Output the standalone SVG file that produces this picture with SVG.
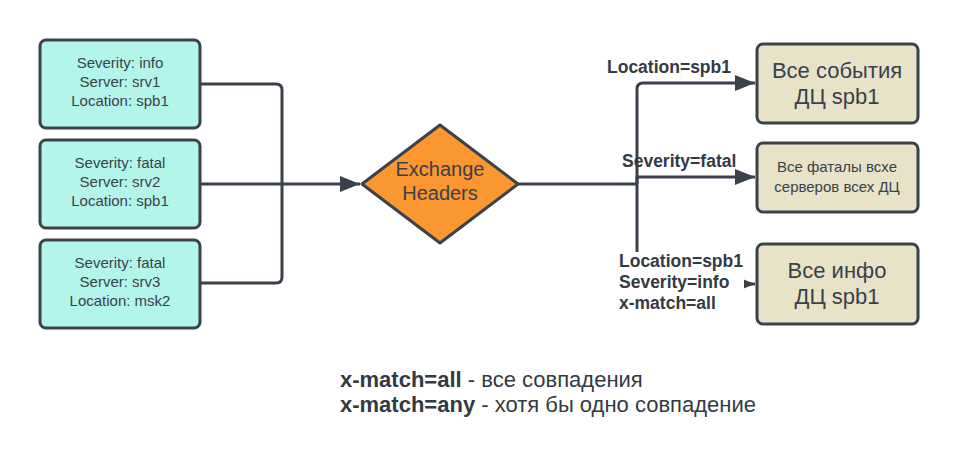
<svg xmlns="http://www.w3.org/2000/svg" width="958" height="464" viewBox="0 0 958 464">
<defs>
<marker id="arr" viewBox="0 0 20 16" refX="20" refY="8" markerWidth="20" markerHeight="16" markerUnits="userSpaceOnUse" orient="auto">
<path d="M0,0 L20,8 L0,16 Z" fill="#3a414a"/>
</marker>
</defs>
<style>
.src{fill:#b4f5eb;stroke:#3a414a;stroke-width:3}
.dst{fill:#e8e2c9;stroke:#3a414a;stroke-width:3}
.t{font-family:"Liberation Sans",Arial,sans-serif;fill:#3a414a;text-anchor:middle}
.s14{font-size:15px}
.lbl{font-family:"Liberation Sans",Arial,sans-serif;font-weight:bold;font-size:17.5px;fill:#333a44}
.c{fill:none;stroke:#3a414a;stroke-width:3;stroke-linejoin:round}
.leg{font-family:"Liberation Sans",Arial,sans-serif;font-size:22px;fill:#333a44}
</style>
<rect width="958" height="464" fill="#ffffff"/>
<g id="connectors">
<path class="c" d="M200,84 H276 Q282,84 282,90 V184"/>
<path class="c" d="M200,283 H276 Q282,283 282,277 V184"/>
<path class="c" d="M200,184 H360" marker-end="url(#arr)"/>
<path class="c" d="M518,184 H637"/>
<path class="c" d="M637,184 V89 Q637,83 643,83 H755" marker-end="url(#arr)"/>
<path class="c" d="M637,184 V177 H755" marker-end="url(#arr)"/>
<path class="c" d="M637,184 V278 Q637,284 643,284 H755" marker-end="url(#arr)"/>
</g>
<g id="src1"><rect class="src" x="40" y="40" width="160" height="88" rx="6"/>
<text class="t s14" x="120" y="68">Severity: info</text><text class="t s14" x="120" y="87">Server: srv1</text><text class="t s14" x="120" y="106">Location: spb1</text></g>
<g id="src2"><rect class="src" x="40" y="140" width="160" height="88" rx="6"/>
<text class="t s14" x="120" y="168">Severity: fatal</text><text class="t s14" x="120" y="187">Server: srv2</text><text class="t s14" x="120" y="206">Location: spb1</text></g>
<g id="src3"><rect class="src" x="40" y="240" width="160" height="88" rx="6"/>
<text class="t s14" x="120" y="268">Severity: fatal</text><text class="t s14" x="120" y="287">Server: srv3</text><text class="t s14" x="120" y="306">Location: msk2</text></g>
<g id="exchange"><path d="M440,125 L518,184 L440,243 L362,184 Z" fill="#fa9731" stroke="#3a414a" stroke-width="3" stroke-linejoin="round"/>
<text class="t" style="font-size:20px" x="440" y="176">Exchange</text><text class="t" style="font-size:20px" x="440" y="200">Headers</text></g>
<g id="dst1"><rect class="dst" x="757" y="44" width="161" height="79" rx="6"/>
<text class="t" style="font-size:22px" x="837" y="78">Все события</text><text class="t" style="font-size:22px" x="837" y="104">ДЦ spb1</text></g>
<g id="dst2"><rect class="dst" x="757" y="143" width="161" height="69" rx="6"/>
<text class="t" style="font-size:15px" x="837" y="172">Все фаталы всхе</text><text class="t" style="font-size:15px" x="837" y="192">серверов всех ДЦ</text></g>
<g id="dst3"><rect class="dst" x="757" y="244" width="161" height="80" rx="6"/>
<text class="t" style="font-size:22px" x="837" y="278">Все инфо</text><text class="t" style="font-size:22px" x="837" y="304">ДЦ spb1</text></g>
<g id="labels">
<text class="lbl" x="607" y="73">Location=spb1</text>
<text class="lbl" x="622" y="167">Severity=fatal</text>
<rect x="616" y="252" width="128" height="62" fill="#ffffff"/>
<text class="lbl" x="619" y="267">Location=spb1</text>
<text class="lbl" x="619" y="288">Severity=info</text>
<text class="lbl" x="619" y="309">x-match=all</text>
</g>
<g id="legend">
<text class="leg" x="340" y="387"><tspan font-weight="bold">x-match=all</tspan> - все совпадения</text>
<text class="leg" x="340" y="412"><tspan font-weight="bold">x-match=any</tspan> - хотя бы одно совпадение</text>
</g>
</svg>
